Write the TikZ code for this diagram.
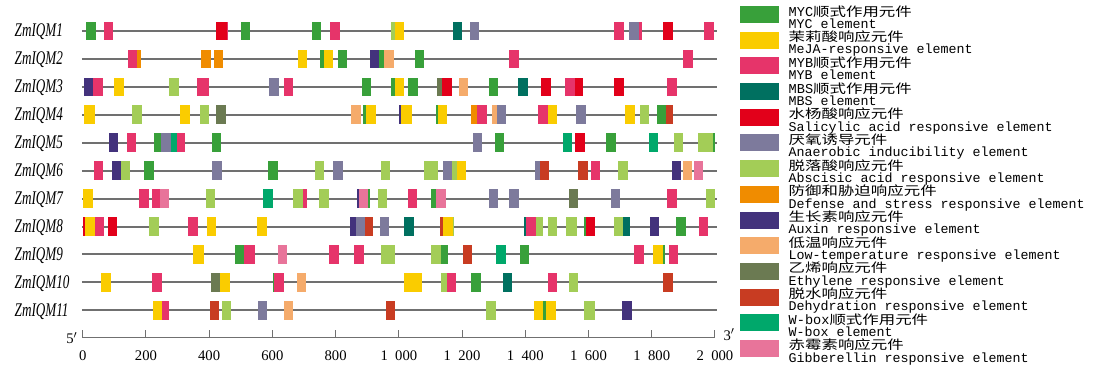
\documentclass[tikz,border=0pt]{standalone}
\usepackage{fontspec}
\usepackage{xcolor}
\usepackage{tikz}
\setmainfont{Liberation Serif}
\newfontfamily\cjk{Noto Sans CJK SC}[FakeStretch=1.3, Scale=0.93]
\newfontfamily\legfont{Liberation Mono}
\newfontfamily\genefont{Liberation Serif}[FakeStretch=0.68]

\definecolor{myc}{RGB}{56,160,58}
\definecolor{meja}{RGB}{250,204,0}
\definecolor{myb}{RGB}{230,52,106}
\definecolor{mbs}{RGB}{0,112,96}
\definecolor{sal}{RGB}{226,0,26}
\definecolor{anae}{RGB}{125,122,156}
\definecolor{aba}{RGB}{163,205,87}
\definecolor{defst}{RGB}{240,140,0}
\definecolor{auxin}{RGB}{67,50,124}
\definecolor{ltr}{RGB}{245,171,107}
\definecolor{eth}{RGB}{107,122,82}
\definecolor{dehy}{RGB}{200,60,34}
\definecolor{wbox}{RGB}{0,168,107}
\definecolor{gib}{RGB}{232,116,154}
\definecolor{lineg}{RGB}{112,112,112}

\tikzset{
  gene/.style={draw=lineg, line width=1.5pt},
  genelbl/.style={anchor=base west, font={\fontsize{14.5}{16}\selectfont\genefont\itshape}},
  ticklbl/.style={anchor=base, font={\fontsize{11}{12}\selectfont}},
  zhlbl/.style={anchor=base west, font={\fontsize{10.2}{11}\selectfont\legfont}},
  enlbl/.style={anchor=base west, font={\fontsize{10}{11}\selectfont\legfont}}
}

% one row of elements: row number, list of start/end/colour (bp)
\newcommand{\elems}[2]{%
  \pgfmathsetmacro\yr{31+(#1-1)*27.93}
  \draw[gene] (-3,\yr) -- (2005,\yr);
  \foreach \a/\b/\c in {#2} \fill[\c] (\a,\yr-9.3) rectangle (\b,\yr+9.3);
}

\begin{document}
\begin{tikzpicture}[x=0.75pt,y=-0.75pt]
\useasboundingbox (0,0) rectangle (1100,369);

% gene names
\foreach \r in {1,...,11}
  \node[genelbl] (g\r) at (10,{36.7+(\r-1)*27.93}) {ZmIQM\r};

\begin{scope}[xshift=62.03pt, x=0.2371pt]
\elems{1}{10/42/myc, 67/97/myb, 422/455/sal, 455/461/myb, 500/530/myc, 724/755/myc, 783/814/myb, 975/989/aba, 989/1017/meja, 1170/1201/mbs, 1225/1254/anae, 1681/1711/myb, 1729/1760/anae, 1760/1768/myb, 1836/1867/sal, 1966/1997/myb}
\elems{2}{143/173/myb, 173/183/defst, 375/406/defst, 414/444/defst, 680/710/meja, 752/763/myc, 763/793/meja, 807/836/myc, 908/937/auxin, 937/954/myc, 954/984/ltr, 1050/1080/myc, 1349/1380/myb, 1899/1929/myb}
\elems{3}{3/34/auxin, 34/63/myb, 99/131/meja, 272/304/aba, 362/399/myb, 590/622/anae, 636/666/myb, 883/913/myc, 976/989/myc, 989/1017/meja, 1030/1060/myc, 1122/1136/eth, 1136/1167/sal, 1189/1219/ltr, 1285/1315/myc, 1377/1408/mbs, 1451/1481/sal, 1526/1556/myb, 1556/1582/sal, 1681/1711/sal, 1848/1879/myb}
\elems{4}{5/39/meja, 156/187/aba, 308/339/meja, 371/400/aba, 422/452/eth, 849/879/ltr, 888/895/myc, 895/928/meja, 1001/1008/auxin, 1008/1041/meja, 1118/1124/myc, 1124/1151/meja, 1228/1248/defst, 1248/1278/myb, 1296/1310/ltr, 1310/1338/anae, 1441/1471/myb, 1471/1499/meja, 1561/1591/anae, 1715/1746/meja, 1762/1791/aba, 1816/1845/myc, 1845/1868/dehy}
\elems{5}{82/112/auxin, 140/170/myb, 226/248/myc, 248/278/anae, 278/299/wbox, 299/324/myb, 409/438/myc, 1234/1263/anae, 1303/1334/myc, 1519/1549/wbox, 1557/1588/sal, 1656/1686/myc, 1790/1820/wbox, 1870/1900/aba, 1945/1995/aba, 1995/2000/myc}
\elems{6}{35/65/myb, 93/120/auxin, 120/151/aba, 195/225/myc, 410/440/anae, 587/617/myc, 735/764/aba, 793/822/anae, 943/972/aba, 1080/1124/aba, 1139/1168/anae, 1168/1183/aba, 1183/1212/meja, 1432/1446/anae, 1446/1476/dehy, 1568/1598/dehy, 1607/1636/myb, 1694/1724/aba, 1863/1892/auxin, 1898/1926/ltr, 1935/1963/gib}
\elems{7}{2/34/meja, 178/210/myb, 219/244/myb, 244/273/gib, 390/419/aba, 571/601/wbox, 666/696/aba, 696/710/myb, 748/778/aba, 868/874/auxin, 874/903/gib, 903/909/myc, 933/962/aba, 1029/1058/myb, 1103/1118/myc, 1118/1148/gib, 1284/1314/anae, 1349/1379/anae, 1537/1568/eth, 1670/1700/anae, 1848/1879/myb, 1971/2000/aba}
\elems{8}{1/8/sal, 8/38/meja, 38/66/myb, 79/108/sal, 210/240/aba, 334/365/myb, 392/423/meja, 551/582/meja, 845/864/auxin, 864/893/anae, 893/919/dehy, 940/970/anae, 1017/1047/mbs, 1131/1139/dehy, 1139/1170/meja, 1170/1174/aba, 1397/1402/mbs, 1402/1433/myb, 1433/1457/aba, 1472/1501/aba, 1529/1562/aba, 1586/1592/myc, 1592/1621/sal, 1680/1710/aba, 1710/1731/mbs, 1794/1824/auxin, 1877/1907/myc, 1948/1978/myb}
\elems{9}{348/384/meja, 483/511/myc, 511/545/myb, 617/647/gib, 780/811/myb, 859/890/myb, 944/988/aba, 1103/1132/aba, 1132/1155/myc, 1202/1232/dehy, 1308/1338/wbox, 1382/1412/myc, 1745/1775/myb, 1805/1836/meja, 1836/1842/myc, 1854/1884/myb}
\elems{10}{57/89/meja, 220/251/myb, 405/434/eth, 434/465/meja, 601/605/myc, 605/636/myb, 677/706/ltr, 1015/1072/meja, 1134/1152/aba, 1152/1182/myb, 1228/1259/myc, 1328/1359/mbs, 1471/1501/myb, 1537/1567/aba, 1836/1866/dehy}
\elems{11}{222/252/meja, 252/272/myb, 402/432/dehy, 440/470/aba, 554/584/anae, 636/665/ltr, 958/989/dehy, 1276/1307/aba, 1426/1456/meja, 1456/1464/myc, 1464/1497/meja, 1587/1619/aba, 1706/1736/auxin}

% axis
\draw[lineg, line width=0.75pt] (0,337.7) -- (2000,337.7);
\foreach \t/\lbl in {0/0, 200/200, 400/400, 600/600, 800/800, 1000/{1\enspace000}, 1200/{1\enspace200}, 1400/{1\enspace400}, 1600/{1\enspace600}, 1800/{1\enspace800}, 2000/{2\enspace000}} {
  \draw[lineg, line width=0.75pt] (\t,337.7) -- (\t,330);
  \node[ticklbl] (t\t) at (\t,360) {\lbl};
}
\node[ticklbl, anchor=base east] (five) at (-2,343.3) {5$'$};
\node[ticklbl, anchor=base west] (three) at (2012,340) {3$'$};
\end{scope}

% legend
\foreach \i/\col/\zh/\en in {
  1/myc/{MYC{\cjk 顺式作用元件}}/{MYC element},
  2/meja/{{\cjk 茉莉酸响应元件}}/{MeJA-responsive element},
  3/myb/{MYB{\cjk 顺式作用元件}}/{MYB element},
  4/mbs/{MBS{\cjk 顺式作用元件}}/{MBS element},
  5/sal/{{\cjk 水杨酸响应元件}}/{Salicylic acid responsive element},
  6/anae/{{\cjk 厌氧诱导元件}}/{Anaerobic inducibility element},
  7/aba/{{\cjk 脱落酸响应元件}}/{Abscisic acid responsive element},
  8/defst/{{\cjk 防御和胁迫响应元件}}/{Defense and stress responsive element},
  9/auxin/{{\cjk 生长素响应元件}}/{Auxin responsive element},
  10/ltr/{{\cjk 低温响应元件}}/{Low-temperature responsive element},
  11/eth/{{\cjk 乙烯响应元件}}/{Ethylene responsive element},
  12/dehy/{{\cjk 脱水响应元件}}/{Dehydration responsive element},
  13/wbox/{W-box{\cjk 顺式作用元件}}/{W-box element},
  14/gib/{{\cjk 赤霉素响应元件}}/{Gibberellin responsive element}} {
  \pgfmathsetmacro\ty{6+(\i-1)*25.69}
  \fill[\col] (740,\ty) rectangle (779,\ty+17);
  \node[zhlbl] (zh\i) at (784,\ty+10) {\zh};
  \node[enlbl] (en\i) at (784,\ty+22.3) {\en};
}
\end{tikzpicture}
\end{document}
